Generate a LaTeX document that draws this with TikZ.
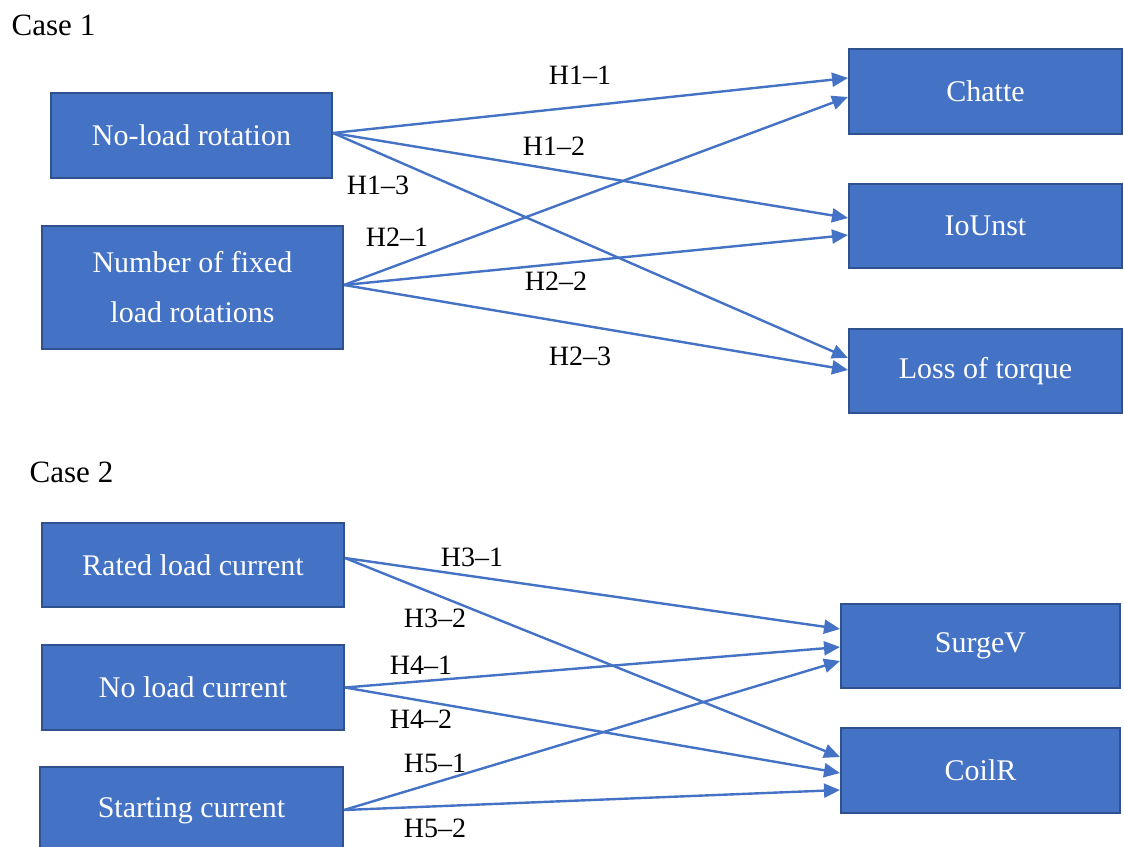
\documentclass[tikz,border=0pt]{standalone}
\usepackage{fontspec}
\setmainfont{Liberation Serif}
\usetikzlibrary{arrows.meta}
\definecolor{boxfill}{HTML}{4472C4}
\definecolor{boxedge}{HTML}{2F528F}
\definecolor{linkcol}{HTML}{4472C4}
\tikzset{
  blk/.style={draw=boxedge, line width=2pt, fill=boxfill, text=white, inner sep=0pt,
    font=\fontsize{30}{50}\selectfont, align=center},
  lbl/.style={inner sep=0pt, font=\fontsize{28}{30}\selectfont},
  casel/.style={inner sep=0pt, font=\fontsize{31}{33}\selectfont},
  link/.style={draw=linkcol, line width=2.4pt, -{Triangle[length=16pt,width=14pt]}}
}
\begin{document}
\begin{tikzpicture}[x=1pt,y=-1pt]
\useasboundingbox (0,0) rectangle (1124,846);
% Case 1
\node[casel] (c1) at (53.5,25) {Case 1};
\node[blk, minimum width=281pt, minimum height=85pt] (nl) at (191.5,135.5) {No-load rotation};
\node[blk, minimum width=301pt, minimum height=123pt] (nf) at (192.5,287.5) {Number of fixed\\load rotations};
\node[blk, minimum width=273pt, minimum height=85pt] (ch) at (985.5,91.5) {Chatte};
\node[blk, minimum width=273pt, minimum height=84pt] (io) at (985.5,226) {IoUnst};
\node[blk, minimum width=273pt, minimum height=84pt] (lt) at (985.5,371) {Loss of torque};

\draw[link] ([yshift=2.5pt]nl.east) -- ([yshift=13.5pt]ch.west);
\draw[link] ([yshift=2.5pt]nl.east) -- ([yshift=8pt]io.west);
\draw[link] ([yshift=2.5pt]nl.east) -- ([yshift=13pt]lt.west);
\draw[link] ([yshift=2.5pt]nf.east) -- ([yshift=-5.5pt]ch.west);
\draw[link] ([yshift=2.5pt]nf.east) -- ([yshift=-9pt]io.west);
\draw[link] ([yshift=2.5pt]nf.east) -- ([yshift=1pt]lt.west);

\node[lbl] (h11) at (580,75) {H1–1};
\node[lbl] (h12) at (554,146) {H1–2};
\node[lbl] (h13) at (378,185) {H1–3};
\node[lbl] (h21) at (397,237) {H2–1};
\node[lbl] (h22) at (556,281) {H2–2};
\node[lbl] (h23) at (580,356) {H2–3};

% Case 2
\node[casel] (c2) at (71.5,472) {Case 2};
\node[blk, minimum width=302pt, minimum height=84pt] (rl) at (193,565) {Rated load current};
\node[blk, minimum width=302pt, minimum height=85pt] (nc) at (193,687.5) {No load current};
\node[blk, minimum width=303pt, minimum height=88pt] (sc) at (191.5,811) {Starting current};
\node[blk, minimum width=279pt, minimum height=84pt] (sv) at (980.5,646) {SurgeV};
\node[blk, minimum width=279pt, minimum height=85pt] (cr) at (980.5,770.5) {CoilR};

\draw[link] ([yshift=7pt]rl.east) -- ([yshift=17pt]sv.west);
\draw[link] ([yshift=7pt]rl.east) -- ([yshift=13.5pt]cr.west);
\draw[link] (nc.east) -- ([yshift=-1pt]sv.west);
\draw[link] (nc.east) -- ([yshift=-2.5pt]cr.west);
\draw[link] ([yshift=1pt]sc.east) -- ([yshift=-15pt]sv.west);
\draw[link] ([yshift=1pt]sc.east) -- ([yshift=-19.5pt]cr.west);

\node[lbl] (h31) at (472,557) {H3–1};
\node[lbl] (h32) at (435,618) {H3–2};
\node[lbl] (h41) at (421,665) {H4–1};
\node[lbl] (h42) at (421,719) {H4–2};
\node[lbl] (h51) at (435,763) {H5–1};
\node[lbl] (h52) at (435,828) {H5–2};
\end{tikzpicture}
\end{document}
